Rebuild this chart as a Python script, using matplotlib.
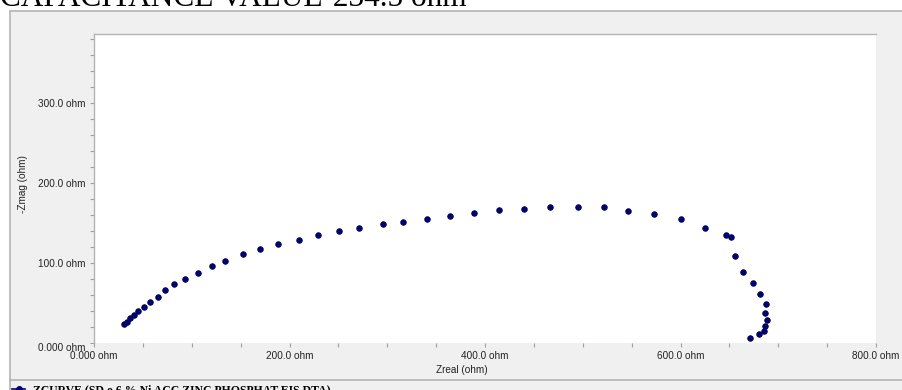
import matplotlib
matplotlib.use("Agg")
import matplotlib.pyplot as plt
from matplotlib.lines import Line2D
from matplotlib.patches import Rectangle
from matplotlib.ticker import FixedLocator, MultipleLocator

# Nyquist data, Zreal / -Zmag in ohm
zreal = [31.0, 34.1, 37.2, 40.9, 45.3, 51.2, 57.0, 65.1, 72.6, 82.2, 93.1, 106.7,
         120.4, 133.7, 152.4, 170.1, 188.6, 209.7, 229.5, 250.9, 271.4, 295.3, 316.4,
         341.0, 364.2, 388.7, 414.6, 440.2, 466.5, 495.5, 521.7, 546.0, 573.2, 600.2,
         625.4, 646.2, 651.7, 655.8, 664.3, 674.5, 681.6, 687.5, 686.8, 688.5, 686.8,
         685.4, 680.6, 671.4]
zmag = [23.7, 26.3, 31.3, 35.0, 40.4, 45.0, 51.7, 57.9, 65.8, 74.2, 80.4, 87.9,
        96.3, 102.9, 111.7, 117.9, 123.8, 129.2, 135.0, 139.6, 144.2, 148.3, 151.7,
        155.4, 159.2, 162.1, 165.8, 167.9, 169.6, 169.6, 169.6, 165.0, 161.3, 154.6,
        144.2, 135.0, 132.1, 108.8, 89.1, 75.0, 61.7, 48.8, 37.5, 29.2, 21.7,
        15.0, 11.3, 5.8]

x_ticks = [0, 200, 400, 600, 800]
x_ticklabels = ["0.000 ohm", "200.0 ohm", "400.0 ohm", "600.0 ohm", "800.0 ohm"]
y_ticks = [0, 100, 200, 300]
y_ticklabels = ["0.000 ohm", "100.0 ohm", "200.0 ohm", "300.0 ohm"]

title = "CAPACITANCE VALUE-234.5 ohm"
curve_name = "ZCURVE (SD o.6 % Ni ACC ZINC PHOSPHAT-EIS.DTA)"

W, H = 903, 390
PANEL = "#f0f0f0"
EDGE = "#b4b4b4"
TXT = "#222222"
DOT = "#00007a"


def fx(px):
    return px / W


def fy(py):
    return 1 - py / H


fig = plt.figure(figsize=(W / 100, H / 100), dpi=100)
fig.patch.set_facecolor("white")

# grey frame around the plot and legend strip
fig.patches.append(Rectangle((fx(10), fy(400)), fx(903) - fx(10), fy(11) - fy(400),
                             transform=fig.transFigure, facecolor=PANEL,
                             edgecolor=EDGE, linewidth=1.2, zorder=0))
fig.lines.append(Line2D([fx(10), fx(903)], [fy(379.5), fy(379.5)],
                        transform=fig.transFigure, color=EDGE, linewidth=1.2))

ax = fig.add_axes([fx(94), fy(343), fx(876) - fx(94), fy(34) - fy(343)])
ax.set_zorder(2)
ax.set_facecolor("white")
ax.plot(zreal, zmag, linestyle="none", marker="o", markersize=4,
        markerfacecolor=DOT, markeredgecolor="#000040", markeredgewidth=0.6)

ax.set_xlim(0, 800)
ax.set_ylim(0, 386)
for side in ("right", "bottom"):
    ax.spines[side].set_visible(False)
for side in ("left", "top"):
    ax.spines[side].set_color(EDGE)
    ax.spines[side].set_linewidth(1.0)

ax.xaxis.set_major_locator(FixedLocator(x_ticks))
ax.xaxis.set_minor_locator(MultipleLocator(50))
ax.yaxis.set_major_locator(FixedLocator(y_ticks))
ax.yaxis.set_minor_locator(MultipleLocator(20))
ax.set_xticklabels(x_ticklabels)
ax.set_yticklabels(y_ticklabels)
ax.tick_params(which="both", color="#a0a0a0", length=3, width=0.8,
               labelsize=7.2, labelcolor=TXT)
ax.tick_params(axis="x", which="both", pad=3)
ax.tick_params(axis="y", which="both", pad=3)
for lbl in ax.get_xticklabels() + ax.get_yticklabels():
    lbl.set_family("Liberation Sans")
ax.get_yticklabels()[0].set_verticalalignment("top")

fig.text(fx(462), fy(370), "Zreal (ohm)", ha="center", va="center",
         fontsize=7.2, color=TXT, family="Liberation Sans")
fig.text(fx(23), fy(184), "-Zmag (ohm)", ha="center", va="center", rotation=90,
         fontsize=7.2, color=TXT, family="Liberation Sans")

fig.text(fx(0), fy(6), title, ha="left", va="baseline", fontsize=22.5,
         color="black", family="Liberation Serif")

# legend entry in the bottom strip
fig.lines.append(Line2D([fx(12), fx(18.5), fx(25)], [fy(389), fy(389), fy(389)],
                        transform=fig.transFigure, color=DOT, linewidth=1.2,
                        marker="o", markersize=4, markevery=[1],
                        markerfacecolor=DOT))
fig.text(fx(33), fy(393), curve_name, ha="left", va="baseline", fontsize=8.5,
         fontweight="bold", color="black", family="Liberation Serif")

fig.savefig("out.png", dpi=100)
